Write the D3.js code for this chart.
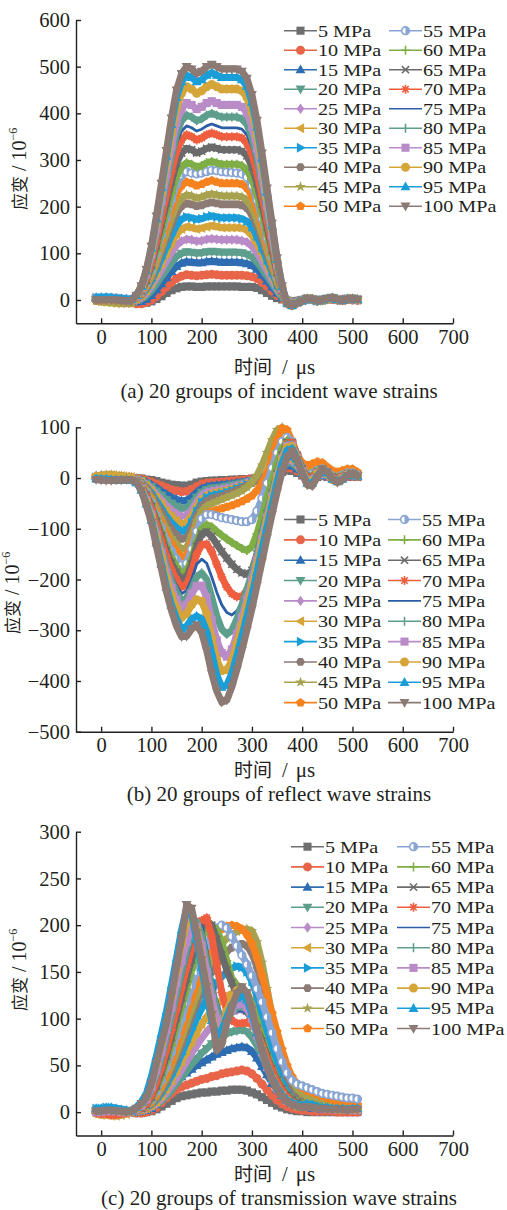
<!DOCTYPE html>
<html><head><meta charset="utf-8">
<script src="https://cdn.jsdelivr.net/npm/d3@7"></script>
<style>body{margin:0;background:#fff}svg{display:block}</style>
</head><body>
<svg id="chart" width="507" height="1210"></svg>
<script>
const times = [-10,0,10,20,30,40,50,60,70,80,90,100,110,120,130,140,150,160,170,180,190,200,210,220,230,240,250,260,270,280,290,300,310,320,330,340,350,360,370,380,390,400,410,420,430,440,450,460,470,480,490,500,510];
const pressures = ["5 MPa","10 MPa","15 MPa","20 MPa","25 MPa","30 MPa","35 MPa","40 MPa","45 MPa","50 MPa","55 MPa","60 MPa","65 MPa","70 MPa","75 MPa","80 MPa","85 MPa","90 MPa","95 MPa","100 MPa"];
const colors = ["#6d6e70","#e8654a","#2f6db3","#5e9e8d","#b98bc7","#d5a53a","#1a9ed8","#8c7a75","#a7a24f","#f5821f","#89a5d3","#7fae47","#6b6b6b","#ee5e3f","#2c5ea8","#5e9e8d","#b98bc7","#d5a53a","#1a9ed8","#8c7a75"];
const markers = ["square","circle","triUp","triDown","diamond","triLeft","triRight","hexagon","star","pentagon","halfCircle","plus","cross","asterisk","none","vbar","square","circle","triUp","triDown"];
const xTicks = [0,100,200,300,400,500,600,700];
const incidentTicks = [0,100,200,300,400,500,600];
const reflectTicks = [-500,-400,-300,-200,-100,0,100];
const transmitTicks = [0,50,100,150,200,250,300];

const incident = [
[3,3,4,4,3,2,1,-2,-6,-7,-6,-3,2,8,15,21,25,28,29,29,28,28,29,29,29,29,29,29,29,28,28,28,26,21,15,9,4,1,-1,-3,-2,0,2,1,0,-1,1,2,1,0,1,2,1],
[0,-2,-3,-4,-5,-6,-6,-6,-8,-8,-5,0,8,18,28,38,46,51,54,53,52,53,54,55,54,53,53,53,53,53,52,50,46,38,29,19,10,3,-2,-4,-2,0,2,1,-1,0,2,1,0,1,2,0,-1],
[5,4,3,3,2,1,0,-1,-4,-3,2,10,22,35,48,61,72,79,82,81,80,80,82,83,82,81,81,81,81,80,78,74,66,54,41,28,15,5,-2,-5,-3,0,2,1,-1,0,2,2,0,1,2,1,0],
[2,2,3,3,2,1,0,-3,-2,2,9,20,34,50,65,80,93,100,103,102,100,101,103,104,103,102,102,102,102,101,98,92,81,67,51,35,19,6,-2,-5,-3,0,3,1,-1,0,2,3,0,1,2,1,0],
[0,-2,-3,-3,-4,-5,-5,-4,0,5,15,29,46,64,83,101,117,126,130,129,126,127,130,131,130,129,129,129,129,127,124,115,101,83,63,43,23,8,-2,-6,-3,0,3,1,-1,0,2,3,1,-1,2,2,0],
[-3,-4,-5,-6,-7,-7,-7,-6,2,9,20,36,57,79,100,122,141,152,157,155,152,154,157,159,157,155,155,155,155,154,149,138,121,99,75,52,28,9,-3,-7,-4,-1,3,1,-2,0,2,3,1,-1,2,2,0],
[5,5,4,4,3,2,1,0,4,11,23,41,64,89,114,139,160,173,178,176,173,174,178,180,178,176,176,176,176,174,169,157,137,112,85,59,32,11,-3,-7,-4,-1,3,1,-2,0,2,4,1,-1,2,3,1],
[2,3,3,3,2,1,0,-1,4,12,27,48,75,104,132,161,186,201,207,205,201,203,207,209,207,205,205,205,205,203,197,182,159,130,99,68,37,12,-4,-8,-4,-1,3,1,-2,0,2,4,1,-1,2,3,1],
[-2,-3,-4,-5,-6,-7,-7,-7,5,14,29,52,81,113,144,176,203,218,225,223,218,221,225,227,225,223,223,223,223,221,214,198,173,142,108,74,41,14,-4,-8,-5,-1,3,1,-2,0,2,4,1,-1,2,3,1],
[3,3,4,4,3,2,1,0,5,15,33,58,91,127,162,197,228,245,253,250,245,248,253,256,253,250,250,250,250,248,240,223,195,159,121,83,46,15,-5,-9,-5,-1,3,1,-2,0,2,4,1,-1,2,3,1],
[4,4,5,5,4,3,2,1,6,17,36,63,99,138,176,215,248,267,275,272,270,272,275,278,277,275,274,273,272,270,263,245,214,175,133,92,50,17,-5,-9,-5,-1,3,2,-2,0,2,4,1,-1,2,3,1],
[1,1,2,2,1,0,-1,-2,6,18,38,68,106,147,188,229,265,285,294,291,285,288,294,297,294,291,291,291,291,288,279,259,226,185,141,97,53,18,-5,-9,-5,-1,3,2,-2,0,2,4,1,-1,2,3,1],
[2,2,3,3,2,1,0,-1,7,20,42,75,117,163,208,254,293,315,325,322,315,319,325,328,325,322,322,322,322,319,309,286,250,205,156,107,59,20,-6,-10,-5,-1,3,2,-2,0,2,4,1,-1,2,3,1],
[0,0,1,1,0,-1,-2,-2,7,21,46,81,127,177,227,276,319,343,354,350,343,347,354,358,354,350,350,350,350,347,336,312,273,223,170,117,64,21,-6,-10,-6,-2,3,2,-2,0,2,4,1,-1,2,3,1],
[3,3,4,4,3,2,1,0,7,22,48,86,134,187,239,291,336,362,373,369,362,366,373,377,373,369,369,369,369,366,354,328,287,235,179,123,67,22,-6,-10,-6,-2,3,2,-2,0,2,4,1,-1,2,3,1],
[1,2,2,2,1,0,-1,-2,8,24,51,91,143,198,253,309,356,384,396,392,384,388,396,400,396,392,392,392,392,388,376,348,305,249,190,131,71,24,-6,-11,-6,-2,3,2,-2,0,2,4,1,-1,2,3,1],
[4,4,4,4,3,2,1,0,8,25,55,97,152,211,270,329,380,409,422,418,409,414,422,426,422,418,418,418,418,414,401,371,325,266,203,139,76,25,-7,-11,-6,-2,3,2,-2,0,2,4,1,-1,2,3,1],
[2,2,3,3,2,1,0,-1,9,27,59,105,165,229,292,356,411,443,457,452,443,448,457,462,457,452,452,452,452,448,434,402,352,288,219,151,82,27,-7,-12,-6,-2,3,2,-2,0,2,4,1,-1,2,3,1],
[5,6,6,5,4,3,2,1,10,29,63,111,174,241,308,376,434,468,482,477,468,472,482,487,482,477,477,477,477,472,458,424,371,304,231,159,87,29,-7,-12,-6,-2,3,2,-2,0,3,5,1,-1,2,3,1],
[0,1,1,1,0,-1,-2,-2,10,30,65,115,180,250,320,390,450,485,500,495,485,490,500,505,500,495,495,495,495,490,475,440,385,315,240,165,90,30,-8,-12,-7,-2,3,2,-2,0,3,5,1,-1,2,3,1]
];

const reflect = [
[2,3,4,4,3,2,1,0,0,-1,-3,-4,-6,-9,-11,-13,-14,-15,-15,-13,-9,-7,-6,-5,-5,-4,-4,-3,-3,-2,-2,-1,-1,0,2,5,9,12,15,14,10,5,2,0,2,4,2,1,0,1,2,3,2],
[0,1,2,2,1,0,-1,-1,-1,-2,-5,-8,-12,-15,-19,-23,-25,-27,-26,-22,-17,-12,-10,-9,-9,-8,-7,-6,-5,-4,-3,-2,-1,0,3,7,12,17,20,19,14,7,2,1,3,5,3,1,0,1,3,4,3],
[3,4,5,5,4,3,2,1,-1,-4,-8,-13,-19,-26,-32,-38,-42,-45,-44,-38,-28,-21,-17,-15,-14,-13,-12,-11,-9,-8,-6,-4,-2,0,4,9,15,21,25,24,18,9,3,1,4,6,4,1,0,2,4,5,3],
[1,2,3,3,2,1,0,-1,-2,-5,-10,-17,-26,-34,-43,-50,-56,-60,-59,-50,-38,-28,-23,-20,-19,-18,-16,-14,-12,-10,-8,-5,-2,0,5,11,18,25,30,29,21,11,3,1,5,7,5,1,0,2,5,6,4],
[4,5,5,5,4,3,2,1,-2,-6,-13,-21,-32,-43,-54,-63,-70,-75,-73,-63,-47,-34,-28,-25,-24,-22,-20,-18,-15,-13,-9,-6,-3,0,6,13,21,29,35,34,25,12,4,1,5,8,5,1,0,2,5,7,4],
[3,5,6,6,5,4,3,2,-3,-7,-15,-25,-39,-51,-65,-76,-84,-90,-88,-75,-56,-41,-34,-30,-28,-26,-24,-21,-18,-15,-11,-8,-4,0,6,14,24,34,40,38,28,14,4,2,6,10,6,2,0,2,6,8,5],
[1,2,3,3,2,1,0,-1,-3,-8,-18,-29,-45,-60,-76,-88,-98,-105,-103,-88,-66,-48,-39,-35,-33,-31,-28,-25,-21,-18,-13,-9,-4,0,7,16,27,38,45,43,32,16,5,2,7,11,7,2,0,3,7,9,5],
[-2,-3,-3,-4,-4,-4,-3,-3,-4,-10,-20,-34,-52,-68,-86,-101,-112,-120,-118,-100,-75,-55,-45,-40,-38,-35,-32,-28,-24,-20,-15,-10,-5,0,8,18,30,42,50,48,35,18,5,2,8,12,8,2,0,3,8,10,6],
[4,5,6,6,5,4,3,2,-4,-11,-24,-39,-60,-80,-101,-118,-130,-140,-137,-115,-85,-65,-55,-50,-46,-42,-38,-34,-30,-25,-18,-8,5,25,50,75,95,100,88,60,35,20,15,18,22,20,14,8,6,9,12,12,8],
[2,3,4,4,3,2,1,0,-5,-12,-26,-43,-67,-88,-112,-130,-144,-155,-152,-130,-100,-80,-70,-66,-63,-60,-57,-54,-50,-46,-41,-35,-25,-10,10,40,75,98,95,72,46,30,25,28,32,30,22,15,12,15,18,18,12],
[0,1,2,2,1,0,-1,-2,-5,-14,-29,-48,-74,-98,-124,-144,-160,-172,-168,-140,-105,-80,-72,-72,-75,-78,-80,-82,-84,-86,-86,-82,-65,-40,-10,20,50,72,80,72,45,20,5,8,15,18,12,4,2,6,10,10,6],
[1,2,2,2,1,0,-1,-2,-6,-15,-32,-52,-80,-107,-135,-157,-174,-187,-183,-160,-125,-100,-92,-96,-105,-113,-120,-127,-133,-139,-143,-135,-110,-75,-40,-5,30,58,74,68,42,18,3,5,14,17,11,3,1,5,9,9,5],
[-1,-2,-2,-3,-3,-3,-2,-2,-6,-16,-34,-56,-86,-114,-144,-168,-186,-200,-196,-170,-135,-110,-106,-115,-130,-145,-158,-170,-180,-187,-190,-182,-150,-110,-70,-30,8,45,70,70,45,18,2,3,12,16,10,2,-1,3,8,9,5],
[0,0,1,1,0,-1,-2,-2,-6,-17,-37,-60,-92,-123,-155,-181,-200,-215,-210,-185,-150,-132,-130,-145,-170,-195,-215,-228,-234,-233,-222,-200,-165,-125,-82,-40,0,40,68,70,45,16,0,2,11,16,9,1,-2,3,8,8,4],
[2,2,3,3,2,1,0,-1,-7,-18,-39,-64,-98,-130,-164,-192,-212,-228,-222,-200,-170,-160,-168,-195,-225,-250,-265,-270,-262,-245,-220,-190,-155,-115,-75,-35,5,42,68,68,42,15,-2,0,10,15,8,0,-3,2,7,8,4],
[-2,-2,-3,-3,-3,-3,-3,-3,-7,-19,-41,-68,-104,-138,-174,-203,-225,-242,-236,-218,-195,-187,-200,-235,-272,-298,-308,-300,-278,-250,-220,-188,-152,-112,-72,-32,6,42,66,66,42,14,-4,-2,10,15,8,-1,-4,1,6,8,4],
[1,1,2,2,1,0,-1,-1,-8,-21,-44,-72,-111,-147,-186,-217,-240,-258,-250,-228,-213,-212,-235,-280,-320,-345,-352,-338,-308,-275,-240,-202,-162,-120,-78,-37,3,38,63,64,40,12,-6,-4,9,15,8,-2,-5,0,6,8,4],
[3,3,4,4,3,2,1,0,-8,-22,-47,-77,-118,-157,-198,-231,-256,-275,-268,-250,-240,-243,-268,-315,-358,-380,-378,-360,-325,-290,-252,-213,-172,-128,-85,-42,0,36,60,62,40,11,-8,-6,8,15,8,-3,-6,-1,6,8,4],
[-1,-2,-2,-3,-3,-3,-3,-4,-9,-24,-51,-83,-128,-170,-215,-250,-277,-298,-292,-278,-272,-278,-302,-345,-388,-412,-408,-385,-350,-312,-272,-230,-186,-140,-96,-52,-8,30,55,58,38,10,-10,-10,5,16,10,-2,-7,-2,5,8,4],
[-3,-4,-5,-5,-4,-4,-3,-4,-8,-25,-55,-88,-135,-180,-225,-262,-292,-313,-312,-298,-290,-305,-340,-385,-420,-442,-438,-412,-378,-340,-300,-258,-212,-165,-118,-72,-28,12,42,53,36,8,-14,-16,2,18,12,-2,-9,-4,5,9,4]
];

const transmit = [
[1,1,2,2,2,1,1,0,-1,-1,0,1,3,6,9,12,15,17,18,19,20,21,21,22,22,23,23,24,24,24,23,21,19,16,13,10,7,5,3,2,1,1,0,0,0,0,0,0,0,0,0,0,0],
[0,0,1,1,1,0,0,0,-1,-1,0,2,5,10,15,20,24,27,29,31,33,35,36,38,39,41,42,43,44,45,44,41,36,30,24,18,13,9,6,4,3,2,2,1,1,1,1,1,0,0,0,0,0],
[2,2,3,3,3,2,1,0,0,1,2,4,8,14,20,27,33,38,42,46,50,53,56,59,62,64,66,68,69,70,69,65,58,49,40,31,24,18,13,9,7,5,5,4,4,3,3,3,3,2,2,2,2],
[1,1,2,2,2,1,1,0,1,2,3,5,8,12,17,23,30,37,44,51,57,63,68,73,77,81,84,86,87,88,86,80,71,60,49,38,29,22,16,12,9,7,6,6,5,5,4,4,4,3,3,3,3],
[3,3,4,4,3,2,1,0,1,2,3,6,9,14,21,28,36,45,54,63,71,79,86,92,97,101,105,107,109,110,107,100,89,75,61,48,36,27,20,15,11,9,8,7,6,6,5,5,4,4,4,3,3],
[-2,-3,-3,-4,-4,-3,-2,1,1,2,4,7,11,17,25,34,44,54,65,75,85,94,102,109,115,120,124,127,129,130,127,119,106,90,73,57,43,32,23,17,13,10,9,8,7,6,6,5,5,4,4,4,3],
[4,4,5,5,4,3,2,1,2,3,5,8,13,20,29,39,50,62,75,88,100,111,121,130,138,145,150,154,156,155,150,140,124,104,84,66,50,37,27,20,15,12,11,10,9,8,7,6,6,5,5,4,4],
[2,2,3,3,2,1,1,1,2,3,5,9,15,23,33,45,58,72,87,102,116,129,140,150,159,166,172,176,179,180,178,170,155,135,112,90,70,52,38,28,20,15,13,11,10,9,8,7,6,6,5,5,5],
[0,1,1,1,1,0,0,1,2,3,6,10,17,26,37,50,64,79,95,110,125,139,152,163,172,180,186,190,193,195,196,194,182,160,132,104,80,60,44,33,25,20,17,15,13,12,11,10,9,8,8,7,7],
[1,1,2,2,2,1,1,1,2,3,6,11,19,29,41,55,71,88,105,122,138,153,167,180,190,196,199,200,199,196,190,180,165,146,126,106,86,67,50,38,30,26,23,21,19,17,15,13,12,11,10,9,8],
[3,3,4,4,3,2,1,1,2,4,7,13,22,34,48,64,82,100,118,135,150,165,178,190,197,200,197,188,178,168,158,146,132,118,102,85,68,54,42,34,30,28,26,24,22,20,19,18,17,16,15,15,14],
[0,0,1,1,1,0,0,1,2,4,7,14,25,38,54,72,92,112,132,152,170,186,196,200,195,182,162,143,136,133,126,114,98,80,63,48,36,26,19,14,11,9,9,8,7,6,5,4,4,3,3,3,3],
[2,2,2,2,2,1,1,1,2,4,8,16,28,43,60,80,101,122,143,163,182,197,205,200,185,168,152,138,126,116,108,100,90,76,60,46,34,25,18,13,10,8,8,7,6,5,4,4,3,3,3,3,2],
[-1,-2,-2,-3,-3,-2,-1,1,2,5,9,18,32,48,67,88,110,133,155,175,193,205,208,188,158,128,108,98,95,95,96,94,86,72,57,44,32,23,16,11,8,6,6,5,5,4,3,3,3,2,2,2,1],
[1,1,2,2,1,1,0,1,2,5,10,20,35,52,72,94,117,140,162,182,200,200,175,145,120,103,102,105,108,108,106,98,84,68,52,39,28,20,14,10,8,7,8,7,6,5,4,4,3,3,3,3,2],
[3,3,3,3,2,2,1,1,3,6,12,24,40,58,80,102,126,150,172,192,204,188,160,132,110,96,100,107,112,113,110,100,84,66,50,37,27,19,13,10,8,7,8,7,6,5,4,4,3,3,3,3,2],
[0,0,1,1,1,0,0,1,3,7,14,27,45,65,88,112,138,162,182,196,198,178,150,122,100,93,100,110,115,116,112,100,82,64,48,35,25,18,12,9,7,6,7,6,5,4,4,3,3,3,3,2,2],
[2,2,3,3,2,1,1,1,4,9,17,32,52,74,98,124,152,180,203,212,195,165,135,105,80,88,108,122,130,132,126,110,88,68,50,36,26,18,13,9,6,6,8,7,5,5,4,4,3,3,3,3,3],
[4,4,5,5,4,3,2,1,5,11,20,38,60,84,108,136,165,195,218,212,185,155,125,98,82,88,102,115,122,125,120,105,85,66,50,36,26,18,13,10,8,7,9,8,6,5,5,4,4,4,3,4,4],
[1,1,2,2,1,1,0,1,4,9,15,30,52,74,95,125,155,185,222,218,192,163,134,104,66,72,95,112,127,134,128,110,88,66,48,34,24,16,11,8,6,5,6,5,4,4,3,3,3,3,2,3,3]
];

const serif = "'Liberation Serif','Times New Roman',serif";
const cjk = "'Noto Sans CJK SC','Noto Sans CJK JP',sans-serif";
const ink = "#231f20";
const svg = d3.select("#chart");
svg.append("rect").attr("width",507).attr("height",1210).attr("fill","#fff");

function poly(n, r, rot) {
  const pts = [];
  for (let k = 0; k < n; k++) {
    const a = rot + 2 * Math.PI * k / n;
    pts.push([r * Math.cos(a), r * Math.sin(a)]);
  }
  return "M" + pts.map(p => p[0].toFixed(2) + "," + p[1].toFixed(2)).join("L") + "Z";
}
function starPath(r) {
  const pts = [];
  for (let k = 0; k < 10; k++) {
    const a = -Math.PI / 2 + Math.PI * k / 5;
    const rr = k % 2 === 0 ? r * 1.25 : r * 0.5;
    pts.push([rr * Math.cos(a), rr * Math.sin(a)]);
  }
  return "M" + pts.map(p => p[0].toFixed(2) + "," + p[1].toFixed(2)).join("L") + "Z";
}
function circ(r) { return `M${r},0A${r},${r} 0 1,1 ${-r},0A${r},${r} 0 1,1 ${r},0Z`; }
function markerPath(type, s) {
  const r = s / 2;
  switch (type) {
    case "square": return `M${-r*0.9},${-r*0.9}h${s*0.9}v${s*0.9}h${-s*0.9}Z`;
    case "circle": return circ(r);
    case "triUp": return `M0,${-r*1.15}L${r*1.1},${r*0.8}L${-r*1.1},${r*0.8}Z`;
    case "triDown": return `M0,${r*1.15}L${r*1.1},${-r*0.8}L${-r*1.1},${-r*0.8}Z`;
    case "triLeft": return `M${-r*1.15},0L${r*0.8},${-r*1.1}L${r*0.8},${r*1.1}Z`;
    case "triRight": return `M${r*1.15},0L${-r*0.8},${-r*1.1}L${-r*0.8},${r*1.1}Z`;
    case "diamond": return `M0,${-r*1.15}L${r*0.85},0L0,${r*1.15}L${-r*0.85},0Z`;
    case "hexagon": return poly(6, r, 0);
    case "pentagon": return poly(5, r * 1.05, -Math.PI / 2);
    case "star": return starPath(r);
    case "plus": return `M${-r},0H${r}M0,${-r}V${r}`;
    case "cross": return `M${-r*0.8},${-r*0.8}L${r*0.8},${r*0.8}M${-r*0.8},${r*0.8}L${r*0.8},${-r*0.8}`;
    case "asterisk": return `M${-r},0H${r}M0,${-r}V${r}M${-r*0.7},${-r*0.7}L${r*0.7},${r*0.7}M${-r*0.7},${r*0.7}L${r*0.7},${-r*0.7}`;
    case "vbar": return `M0,${-r}V${r}`;
    default: return "";
  }
}
const strokeTypes = new Set(["plus","cross","asterisk","vbar"]);
function drawMarker(g, type, cx, cy, s, color) {
  if (type === "none") return;
  const t = `translate(${cx.toFixed(2)},${cy.toFixed(2)})`;
  if (type === "halfCircle") {
    const r = s / 2;
    g.append("path").attr("transform", t).attr("d", circ(r * 0.85)).attr("fill", "#fff").attr("stroke", color).attr("stroke-width", 1.6);
    g.append("path").attr("transform", t).attr("d", `M0,${-r*0.85}A${r*0.85},${r*0.85} 0 0,1 0,${r*0.85}Z`).attr("fill", color);
    return;
  }
  const p = g.append("path").attr("transform", t).attr("d", markerPath(type, s));
  if (strokeTypes.has(type)) p.attr("fill", "none").attr("stroke", color).attr("stroke-width", 1.6);
  else p.attr("fill", color);
}

const x = d3.scaleLinear().domain([-50, 700]).range([76, 453]);

function drawPanel(p) {
  const g = svg.append("g");
  const y = d3.scaleLinear().domain(p.yDomain).range([p.bottom, p.top]);
  const line = d3.line().x(d => x(d[0])).y(d => y(d[1]));
  p.data.forEach((vals, i) => {
    const pts = vals.map((v, j) => [times[j], v]).filter(d => d[0] !== undefined);
    g.append("path").attr("d", line(pts)).attr("fill", "none")
      .attr("stroke", colors[i]).attr("stroke-width", markers[i] === "none" ? 2.8 : 7)
      .attr("stroke-linejoin", "round").attr("stroke-linecap", "round");
    pts.forEach(d => drawMarker(g, markers[i], x(d[0]), y(d[1]), 9, colors[i]));
  });
  const xa = g.append("g").attr("transform", `translate(0,${p.bottom})`)
    .call(d3.axisBottom(x).tickValues(xTicks).tickSizeInner(-5).tickSizeOuter(0).tickPadding(6));
  const ya = g.append("g").attr("transform", `translate(76,0)`)
    .call(d3.axisLeft(y).tickValues(p.yTicks).tickSizeInner(-5).tickSizeOuter(0).tickPadding(6));
  [xa, ya].forEach(a => {
    a.attr("font-family", serif).attr("font-size", 20.5);
    a.selectAll("text").attr("fill", ink);
    a.selectAll("line,path").attr("stroke", ink).attr("stroke-width", 1.4);
  });
  // legend (text drawn a little wide, as in the reference)
  pressures.forEach((name, i) => {
    const col = i < 10 ? 0 : 1, row = i % 10;
    const lx = col === 0 ? p.lx1 : p.lx2;
    const ly = p.ly0 + row * p.ldy;
    g.append("line").attr("x1", lx).attr("x2", lx + 33).attr("y1", ly).attr("y2", ly)
      .attr("stroke", colors[i]).attr("stroke-width", 1.6);
    drawMarker(g, markers[i], lx + 16.5, ly, 9, colors[i]);
    g.append("text").attr("transform", `translate(${lx + 34},${ly + 6}) scale(1.2,1)`)
      .attr("font-family", serif).attr("font-size", 16.8).attr("fill", ink).text(name);
  });
  // y label
  const yl = g.append("text").attr("transform", `translate(${p.ylx},${p.yly}) rotate(-90)`)
    .attr("text-anchor", "start").attr("fill", ink);
  yl.append("tspan").attr("font-family", cjk).attr("font-size", 17).text("应变");
  yl.append("tspan").attr("font-family", serif).attr("font-size", 20).attr("dx", 5).text("/");
  yl.append("tspan").attr("font-family", serif).attr("font-size", 20).attr("dx", 5).text("10");
  yl.append("tspan").attr("font-family", serif).attr("font-size", 12).attr("dy", -9).text("−6");
  // x label
  const xl = g.append("text").attr("x", 234).attr("y", p.xly).attr("fill", ink);
  xl.append("tspan").attr("font-family", cjk).attr("font-size", 19).text("时间");
  xl.append("tspan").attr("font-family", serif).attr("font-size", 20.5).attr("dx", 10).text("/");
  xl.append("tspan").attr("font-family", serif).attr("font-size", 21).attr("dx", 8).text("μs");
  // caption
  g.append("text").attr("x", 279).attr("y", p.capy).attr("text-anchor", "middle")
    .attr("font-family", serif).attr("font-size", 21).attr("fill", ink).text(p.caption);
}

drawPanel({data: incident, yDomain: [-50, 600], yTicks: incidentTicks, top: 20, bottom: 323.3,
  lx1: 284, lx2: 389, ly0: 30.7, ldy: 19.5, ylx: 26, yly: 210, xly: 373.5, capy: 398,
  caption: "(a) 20 groups of incident wave strains"});
drawPanel({data: reflect, yDomain: [-500, 100], yTicks: reflectTicks, top: 427.3, bottom: 731.7,
  lx1: 284, lx2: 388, ly0: 519.5, ldy: 20.35, ylx: 19, yly: 634, xly: 777, capy: 801,
  caption: "(b) 20 groups of reflect wave strains"});
drawPanel({data: transmit, yDomain: [-25, 300], yTicks: transmitTicks, top: 831.7, bottom: 1135.5,
  lx1: 291, lx2: 397, ly0: 846.7, ldy: 20.2, ylx: 26, yly: 1011, xly: 1181, capy: 1205,
  caption: "(c) 20 groups of transmission wave strains"});
</script>
</body></html>
